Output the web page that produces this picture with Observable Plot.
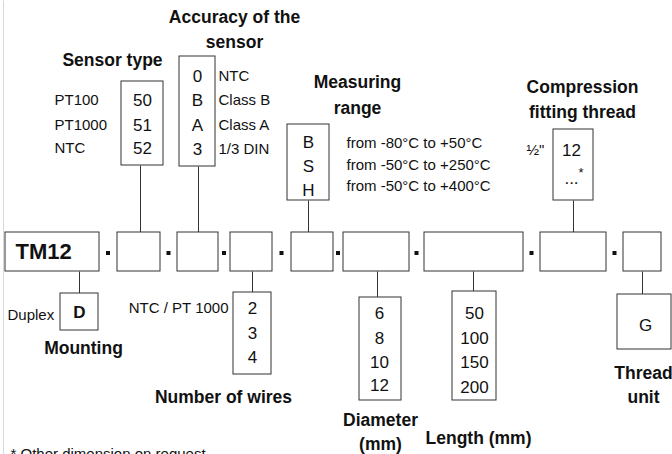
<!DOCTYPE html>
<html><head><meta charset="utf-8">
<script src="https://cdn.jsdelivr.net/npm/d3@7"></script>
<script src="https://cdn.jsdelivr.net/npm/@observablehq/plot@0.6"></script>
<style>html,body{margin:0;padding:0;background:#fff}</style>
</head><body><div id="chart"></div>
<script>
// ---- content (values / labels) ----
const productCode = ["TM12"];
const sensorTypes = ["PT100", "PT1000", "NTC"];
const sensorCodes = ["50", "51", "52"];
const accuracyCodes = ["0", "B", "A", "3"];
const accuracyNames = ["NTC", "Class B", "Class A", "1/3 DIN"];
const rangeCodes = ["B", "S", "H"];
const rangeNames = ["from -80°C to +50°C", "from -50°C to +250°C", "from -50°C to +400°C"];
const threadCodes = ["12", "..."];
const threadSizes = ["½\""];
const mountingCodes = ["D"];
const mountingNames = ["Duplex"];
const wireCodes = ["2", "3", "4"];
const wireNotes = ["NTC / PT 1000"];
const diameters = ["6", "8", "10", "12"];
const lengths = ["50", "100", "150", "200"];
const threadUnits = ["G"];
const titles = {
  sensor: ["Sensor type"], accuracy: ["Accuracy of the", "sensor"], range: ["Measuring", "range"],
  thread: ["Compression", "fitting thread"], mounting: ["Mounting"], wires: ["Number of wires"],
  diameter: ["Diameter", "(mm)"], length: ["Length (mm)"], unit: ["Thread", "unit"]
};
const footnote = ["* Other dimension on request"];

// ---- layout (geometry, kept apart from the content) ----
const W = 672, H = 454;
const row = {y1: 232, y2: 271, boxes: [[5,99],[117,160],[177,218],[230,272],[291,333],[343,409],[424,523],[540,606],[623,661]]};
const groups = [
  {side:"above", box:[121,163,81,165], cx:140, codes:sensorCodes, codeX:142, ys:[100,125,148],
   labels:sensorTypes, labelX:54, labelAnchor:"start", labelYs:[100,125,148], title:titles.sensor, titleX:112, titleYs:[60]},
  {side:"above", box:[179,215,56,166], cx:198, codes:accuracyCodes, codeX:197, ys:[76,100,125,149],
   labels:accuracyNames, labelX:218, labelAnchor:"start", labelYs:[76,100,125,149], title:titles.accuracy, titleX:234, titleYs:[17,42]},
  {side:"above", box:[287,329,124,200], cx:308, codes:rangeCodes, codeX:308, ys:[142,166,190],
   labels:rangeNames, labelX:346, labelAnchor:"start", labelYs:[143,165,186], title:titles.range, titleX:357, titleYs:[82,108]},
  {side:"above", box:[553,593,129,200], cx:573, codes:threadCodes, codeX:571, ys:[150,178],
   labels:threadSizes, labelX:535, labelAnchor:"middle", labelYs:[150], title:titles.thread, titleX:582, titleYs:[87,112]},
  {side:"below", box:[60,98,293,330], cx:79, codes:mountingCodes, codeX:79, ys:[312], codeBold:true,
   labels:mountingNames, labelX:7, labelAnchor:"start", labelYs:[315], title:titles.mounting, titleX:83, titleYs:[348]},
  {side:"below", box:[233,271,292,374], cx:252, codes:wireCodes, codeX:252, ys:[308,333,357],
   labels:wireNotes, labelX:228, labelAnchor:"end", labelYs:[308], title:titles.wires, titleX:223, titleYs:[397]},
  {side:"below", box:[359,401,297,400], cx:377, codes:diameters, codeX:379, ys:[313,338,362,385],
   labels:[], title:titles.diameter, titleX:380, titleYs:[420,444]},
  {side:"below", box:[452,496,291,400], cx:473, codes:lengths, codeX:474, ys:[313,338,362,387],
   labels:[], title:titles.length, titleX:478, titleYs:[438]},
  {side:"below", box:[617,671,294,349], cx:642, codes:threadUnits, codeX:645, ys:[325],
   labels:[], title:titles.unit, titleX:643, titleYs:[373,397]}
];

// ---- build tables ----
const rects = [];
row.boxes.forEach(([a,b]) => rects.push({x1:a, x2:b, y1:row.y1, y2:row.y2}));
groups.forEach(g => rects.push({x1:g.box[0], x2:g.box[1], y1:g.box[2], y2:g.box[3]}));

const dashes = [];
for (let i = 0; i < row.boxes.length - 1; i++) {
  const m = (row.boxes[i][1] + row.boxes[i+1][0]) / 2;
  dashes.push({x1: m - 2, x2: m + 2, y1: 251, y2: 255});
}

const links = groups.map(g => g.side === "above"
  ? {x1:g.cx, x2:g.cx, y1:g.box[3], y2:row.y1}
  : {x1:g.cx, x2:g.cx, y1:row.y2, y2:g.box[2]});

const texts = [];
const add = (x, y, text, anchor, bold, size) => texts.push({x, y, text, anchor, bold, size});
add(15, 251, productCode[0], "start", true, 22);
groups.forEach(g => {
  g.codes.forEach((c, i) => add(g.codeX, g.ys[i], c, "middle", !!g.codeBold, 17));
  g.labels.forEach((l, i) => add(g.labelX, g.labelYs[i], l, g.labelAnchor, false, 15));
  g.title.forEach((t, i) => add(g.titleX, g.titleYs[i], t, "middle", true, 17.5));
});
add(578, 172, "*", "start", false, 13);

const font = "'Liberation Sans', Arial, sans-serif";
const textMarks = [];
for (const anchor of ["start", "middle", "end"]) for (const bold of [false, true]) {
  const sub = texts.filter(d => d.anchor === anchor && d.bold === bold);
  if (!sub.length) continue;
  textMarks.push(Plot.text(sub, {x:"x", y:"y", text:"text", fontSize:"size", textAnchor:anchor,
    lineAnchor:"middle", fontWeight: bold ? "bold" : "normal", fontFamily: font, fill:"#111"}));
}

const chart = Plot.plot({
  width: W, height: H, margin: 0,
  x: {domain:[0, W], range:[0, W], axis:null},
  y: {domain:[0, H], range:[0, H], axis:null},
  style: {background:"#fff", fontFamily: font},
  marks: [
    Plot.link([{x:3, y1:0, y2:H}], {x1:"x", x2:"x", y1:"y1", y2:"y2", stroke:"#d8d8d8"}),
    Plot.link(links, {x1:"x1", x2:"x2", y1:"y1", y2:"y2", stroke:"#333"}),
    Plot.rect(rects, {x1:"x1", x2:"x2", y1:"y1", y2:"y2", fill:"white", stroke:"#333"}),
    Plot.rect(dashes, {x1:"x1", x2:"x2", y1:"y1", y2:"y2", fill:"#111"}),
    ...textMarks,
    Plot.text(footnote, {x:()=>10, y:()=>448, text:d=>d, textAnchor:"start", lineAnchor:"top",
      fontSize:15, fontFamily:font, fill:"#111"})
  ]
});
document.getElementById("chart").appendChild(chart);
</script>
</body></html>
